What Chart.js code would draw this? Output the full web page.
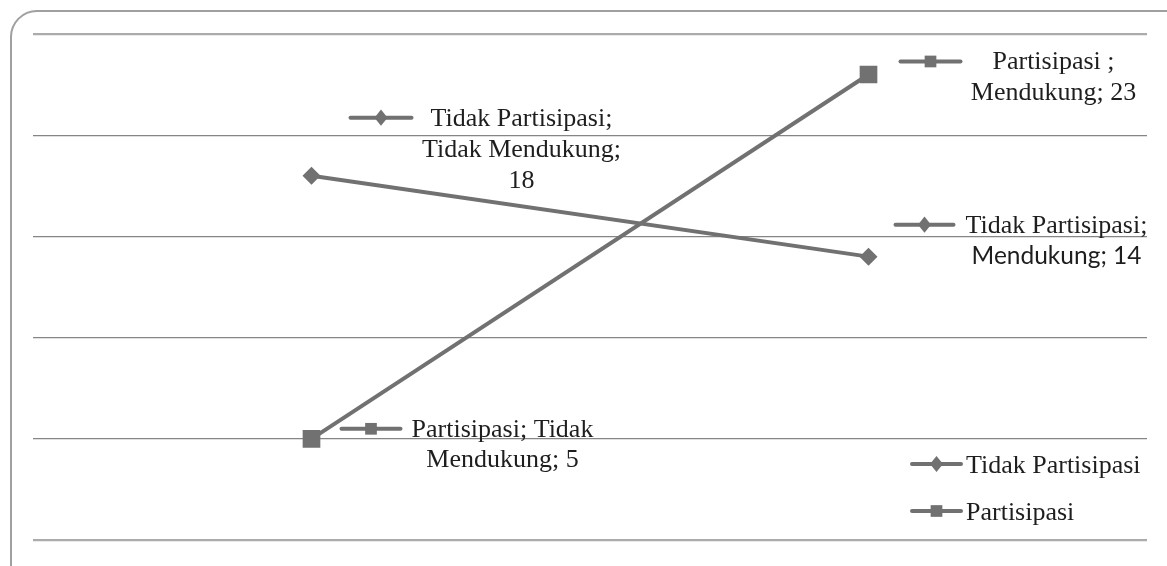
<!DOCTYPE html>
<html><head><meta charset="utf-8">
<script src="https://cdn.jsdelivr.net/npm/chart.js@4/dist/chart.umd.min.js"></script>
<style>
html,body{margin:0;padding:0;background:#fff;overflow:hidden}
#wrap{position:relative;width:1167px;height:566px;overflow:hidden}
#frame{position:absolute;left:10px;top:10px;width:1190px;height:600px;border:2px solid #a0a0a0;border-radius:27px;box-sizing:border-box}
canvas{position:absolute;left:0;top:0}
</style></head><body>
<div id="wrap"><div id="frame"></div><canvas id="c" width="1167" height="566"></canvas></div>
<script>
// ---- data ----
const categories = ['Tidak Mendukung', 'Mendukung'];
const seriesNames = ['Tidak Partisipasi', 'Partisipasi'];
const tidakPartisipasi = [18, 14];
const partisipasi = [5, 23];
const yTicks = [0, 5, 10, 15, 20, 25];

// ---- label layout (text templates + offsets relative to the point) ----
const labelLayout = [
  [ // Tidak Partisipasi
    {lines:['{s};','{c};','{v}'], dx:210, dy:-50, lh:31, kx1:39, kx2:100, sansFrom:99},
    {lines:['{s};','{c}; {v}'], dx:188, dy:-24, lh:31, kx1:27, kx2:85, sansFrom:1}
  ],
  [ // Partisipasi
    {lines:['{s}; {c0}','{c1}; {v}'], dx:191, dy:-2, lh:30, kx1:30, kx2:89, sansFrom:99},
    {lines:['{s} ;','{c}; {v}'], dx:185, dy:-5, lh:31, kx1:32, kx2:92, sansFrom:99}
  ]
];

const LINE = '#717171';
const TEXT = '#1e1e1e';
const SERIF = '26px "Liberation Serif", "Times New Roman", serif';
const SANS = '24.5px Lato, "Liberation Sans", sans-serif';

function drawMarker(ctx, style, x, y, s) {
  ctx.fillStyle = LINE;
  ctx.beginPath();
  if (style === 'rectRot') {
    ctx.moveTo(x, y - s * 0.62); ctx.lineTo(x + s * 0.5, y); ctx.lineTo(x, y + s * 0.62); ctx.lineTo(x - s * 0.5, y);
    ctx.closePath();
  } else {
    ctx.rect(x - s * 0.45, y - s * 0.45, s * 0.9, s * 0.9);
  }
  ctx.fill();
}
function drawKey(ctx, style, x1, x2, y) {
  ctx.save();
  ctx.strokeStyle = LINE; ctx.lineWidth = 4; ctx.lineCap = 'round';
  ctx.beginPath(); ctx.moveTo(x1, y); ctx.lineTo(x2, y); ctx.stroke();
  drawMarker(ctx, style, (x1 + x2) / 2, y, 13);
  ctx.restore();
}

const labelPlugin = {
  id: 'excelLabels',
  afterDatasetsDraw(chart) {
    const ctx = chart.ctx;
    chart.data.datasets.forEach((ds, di) => {
      const meta = chart.getDatasetMeta(di);
      meta.data.forEach((pt, i) => {
        const L = labelLayout[di][i];
        const cat = chart.data.labels[i];
        const words = cat.split(' ');
        const fill = t => t.replace('{s}', ds.label).replace('{c0}', words[0])
          .replace('{c1}', words.slice(1).join(' ')).replace('{c}', cat).replace('{v}', ds.data[i]);
        const cx = pt.x + L.dx;
        const by = pt.y + L.dy;
        ctx.save();
        ctx.fillStyle = TEXT;
        ctx.textAlign = 'center';
        ctx.textBaseline = 'alphabetic';
        L.lines.forEach((ln, k) => {
          ctx.font = k >= L.sansFrom ? SANS : SERIF;
          ctx.fillText(fill(ln), cx, by + k * L.lh);
        });
        ctx.restore();
        drawKey(ctx, ds.pointStyle, pt.x + L.kx1, pt.x + L.kx2, by - 8);
      });
    });
    // legend (bottom right, inside plot)
    const legendY = [473, 520];
    chart.data.datasets.forEach((ds, di) => {
      const y = legendY[di];
      drawKey(ctx, ds.pointStyle, 912, 961, y - 9);
      ctx.save();
      ctx.fillStyle = TEXT; ctx.font = SERIF; ctx.textAlign = 'left'; ctx.textBaseline = 'alphabetic';
      ctx.fillText(ds.label, 966, y);
      ctx.restore();
    });
  }
};

new Chart(document.getElementById('c'), {
  type: 'line',
  data: {
    labels: categories,
    datasets: [
      {label: seriesNames[0], data: tidakPartisipasi, borderColor: LINE, backgroundColor: LINE,
       borderWidth: 4, pointStyle: 'rectRot', pointRadius: 9, pointBackgroundColor: LINE, pointBorderWidth: 0, tension: 0},
      {label: seriesNames[1], data: partisipasi, borderColor: LINE, backgroundColor: LINE,
       borderWidth: 4, pointStyle: 'rect', pointRadius: 12.5, pointBackgroundColor: LINE, pointBorderWidth: 0, tension: 0}
    ]
  },
  options: {
    responsive: false,
    animation: false,
    layout: {padding: {left: 33, top: 34, right: 20, bottom: 26}},
    plugins: {legend: {display: false}, tooltip: {enabled: false}},
    scales: {
      x: {type: 'category', offset: true, display: false},
      y: {
        min: yTicks[0], max: yTicks[yTicks.length - 1],
        afterBuildTicks: s => { s.ticks = yTicks.map(v => ({value: v})); },
        ticks: {display: false},
        border: {display: false},
        grid: {
          drawTicks: false,
          color: c => (c.tick && (c.tick.value === 0 || c.tick.value === 25)) ? '#ababab' : '#858585',
          lineWidth: c => (c.tick && (c.tick.value === 0 || c.tick.value === 25)) ? 2.2 : 1.2
        }
      }
    }
  },
  plugins: [labelPlugin]
});
</script>
</body></html>
